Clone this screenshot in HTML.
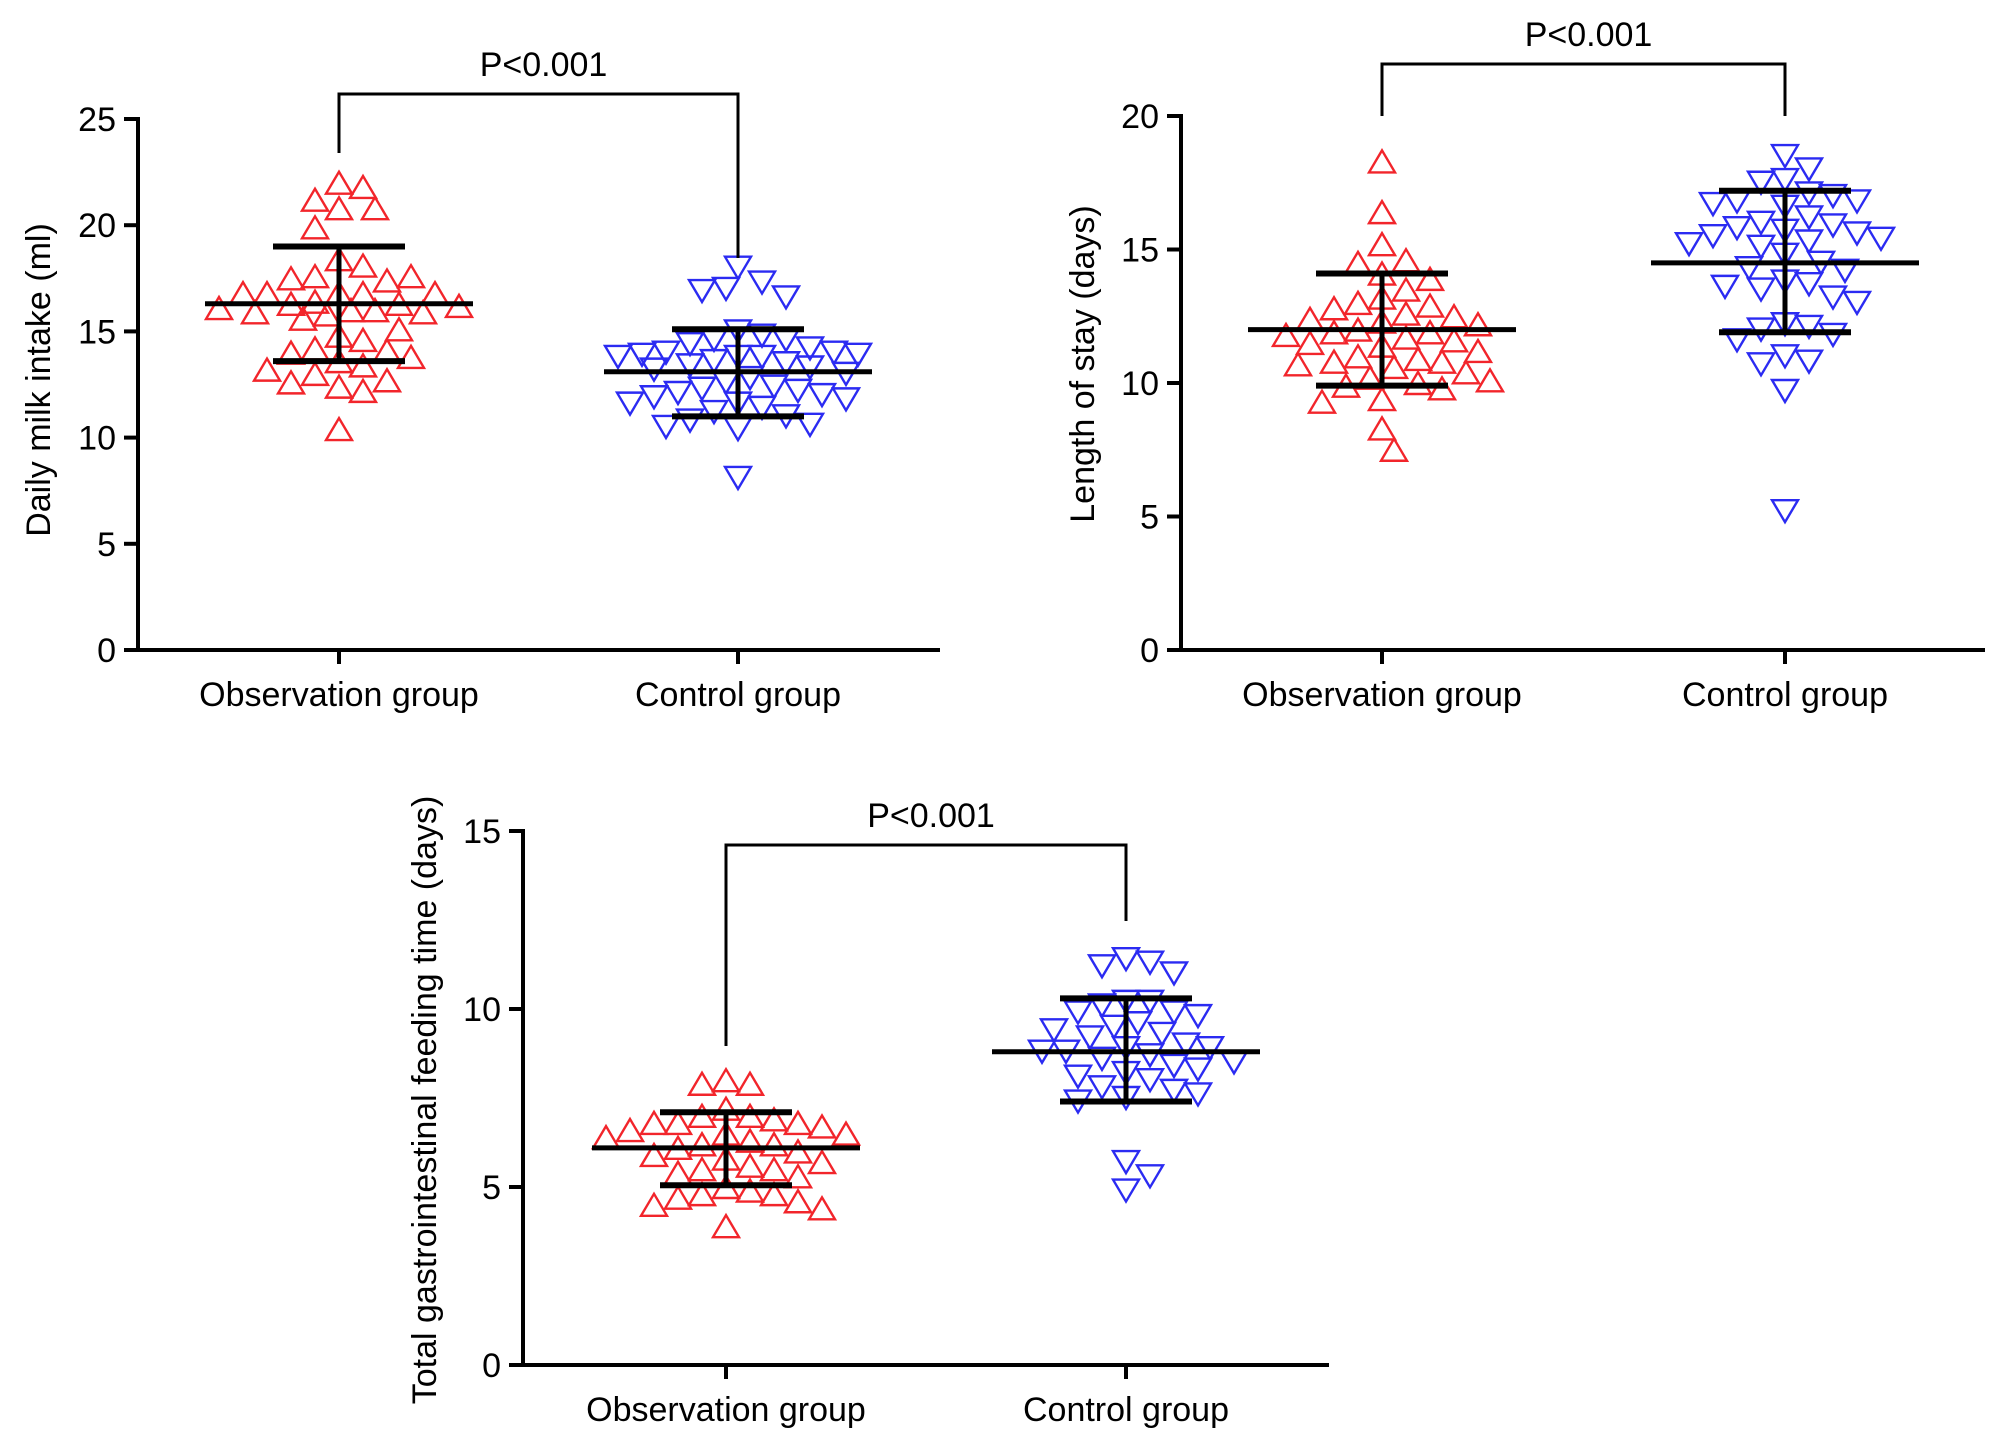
<!DOCTYPE html>
<html><head><meta charset="utf-8"><style>
html,body{margin:0;padding:0;background:#fff;}
svg{display:block;font-family:"Liberation Sans",Arial,sans-serif;}
</style></head><body>
<svg id="fig" width="2008" height="1447" viewBox="0 0 2008 1447"></svg>
<script>
const categories = ["Observation group","Control group"];
const milkObs = [22.0,21.8,21.2,20.8,20.8,19.9,18.4,18.1,17.6,17.4,17.5,17.6,16.8,16.8,16.8,16.8,16.8,16.4,16.3,16.3,16.2,16.1,16.0,16.0,15.9,15.9,15.8,15.6,15.1,14.8,14.6,14.2,14.1,14.0,13.8,13.6,13.4,13.2,13.0,12.7,12.6,12.4,12.2,10.4];
const milkCtl = [18.0,17.3,17.0,16.9,16.6,15.0,14.8,14.6,14.6,14.4,14.2,14.0,14.0,13.9,13.9,13.8,13.8,13.8,13.6,13.5,13.4,13.3,13.2,13.0,12.8,12.6,12.4,12.3,12.2,12.1,12.0,11.9,11.8,11.6,11.6,11.4,11.2,11.0,10.8,10.6,10.5,10.4,8.1];
const milkStats = [[16.3,13.6,19.0],[13.1,11.0,15.1]];
const stayObs = [18.3,16.4,15.2,14.6,14.5,14.1,13.9,13.5,13.2,13.0,12.9,12.8,12.6,12.5,12.4,12.3,12.2,12.0,11.9,11.9,11.8,11.7,11.6,11.5,11.4,11.2,11.0,10.9,10.8,10.8,10.7,10.6,10.4,10.2,10.1,10.0,9.9,9.8,9.4,9.3,8.3,7.5];
const stayCtl = [18.5,18.0,17.6,17.5,17.1,17.0,16.8,16.8,16.6,16.7,16.2,16.0,15.9,15.8,15.7,15.6,15.5,15.4,15.3,15.2,15.1,14.8,14.5,14.3,14.2,13.8,13.7,13.6,13.5,13.2,13.0,12.2,12.1,12.0,11.8,11.6,11.0,10.8,10.7,9.7,5.2];
const stayStats = [[12.0,9.9,14.1],[14.5,11.9,17.2]];
const feedObs = [8.0,7.9,7.9,7.2,7.0,7.0,6.9,6.8,6.8,6.8,6.7,6.6,6.5,6.5,6.4,6.3,6.2,6.2,6.1,6.0,5.9,5.8,5.7,5.6,5.5,5.5,5.4,5.3,5.0,4.9,4.8,4.8,4.7,4.6,4.5,4.4,3.9];
const feedCtl = [11.4,11.3,11.2,11.0,10.2,10.2,10.1,9.9,9.9,9.8,9.6,9.5,9.4,9.3,9.2,9.0,8.9,8.9,8.8,8.8,8.7,8.6,8.5,8.4,8.3,8.2,8.1,8.0,7.8,7.7,7.6,7.5,7.4,5.7,5.3,4.9];
const feedStats = [[6.1,5.05,7.1],[8.8,7.4,10.3]];
const milkTicks = [0,5,10,15,20,25];
const stayTicks = [0,5,10,15,20];
const feedTicks = [0,5,10,15];

const NS="http://www.w3.org/2000/svg";
const svg=document.getElementById('fig');
function mk(tag,attrs,parent){const e=document.createElementNS(NS,tag);for(const k in attrs)e.setAttribute(k,attrs[k]);(parent||svg).appendChild(e);return e;}

function swarm(vals,yf,cx){
  const placed=[];
  const d=24, step=12, maxOff=130;
  const cands=[0];
  for(let k=1;k*step<=maxOff;k++){cands.push(k*step);cands.push(-k*step);}
  vals.forEach(v=>{
    const y=yf(v);
    let best=null,bestD=-1;
    for(const off of cands){
      const x=cx+off;
      let md=Infinity;
      placed.forEach(p=>{md=Math.min(md,Math.hypot(p[0]-x,p[1]-y));});
      if(md>=d){best=x;bestD=md;break;}
      if(md>bestD){bestD=md;best=x;}
    }
    placed.push([best,y]);
  });
  return placed;
}

function chart(cfg){
  const g=mk('g',{});
  
  
  const ymax=cfg.ticks[cfg.ticks.length-1];
  const yf=v=>cfg.y0+(cfg.yTop-cfg.y0)*v/ymax;
  const xs=[cfg.cx1,cfg.cx2];
  const ya=mk('line',{x1:cfg.ax,y1:yf(ymax)-2,x2:cfg.ax,y2:cfg.y0+2,stroke:'#000','stroke-width':4},g);
  
  const xa=mk('line',{x1:cfg.ax-14,y1:cfg.y0,x2:cfg.xEnd,y2:cfg.y0,stroke:'#000','stroke-width':4},g);
  
  cfg.ticks.forEach(t=>{
    const y=yf(t);
    mk('line',{x1:cfg.ax-14,y1:y,x2:cfg.ax,y2:y,stroke:'#000','stroke-width':4},g);
    const tx=mk('text',{x:cfg.ax-22,y:y+12,'text-anchor':'end','font-size':34,fill:'#000'},g);
    tx.textContent=t;
    
  });
  categories.forEach((c,i)=>{
    mk('line',{x1:xs[i],y1:cfg.y0,x2:xs[i],y2:cfg.y0+14,stroke:'#000','stroke-width':4},g);
    const tx=mk('text',{x:xs[i],y:cfg.y0+56,'text-anchor':'middle','font-size':34,fill:'#000'},g);
    tx.textContent=c;
    
  });
  const tt=mk('text',{x:0,y:0,'text-anchor':'middle','font-size':34,fill:'#000',transform:`translate(${cfg.titleX},${cfg.titleY}) rotate(-90)`},g);
  tt.textContent=cfg.title;
  
  [cfg.obs,cfg.ctl].forEach((vals,i)=>{
    const pts=swarm(vals,yf,xs[i]);
    pts.forEach(p=>{
      const [x,y]=p;const w=13,h=11;
      const ptsStr=i===0?`${x},${y-h} ${x-w},${y+h} ${x+w},${y+h}`:`${x},${y+h} ${x-w},${y-h} ${x+w},${y-h}`;
      const pg=mk('polygon',{points:ptsStr,fill:'none',stroke:i===0?'#f2252b':'#2b2bf2','stroke-width':2.4},g);
      
      
    });
  });
  cfg.stats.forEach((s,i)=>{
    const x=xs[i];
    const m=mk('line',{x1:x-134,y1:yf(s[0]),x2:x+134,y2:yf(s[0]),stroke:'#000','stroke-width':5},g);
    
    const v=mk('line',{x1:x,y1:yf(s[1]),x2:x,y2:yf(s[2]),stroke:'#000','stroke-width':5},g);
    
    [s[1],s[2]].forEach(val=>{
      const c=mk('line',{x1:x-66,y1:yf(val),x2:x+66,y2:yf(val),stroke:'#000','stroke-width':6},g);
      
    });
  });
  const br=mk('polyline',{points:`${xs[0]},${cfg.legL} ${xs[0]},${cfg.brY} ${xs[1]},${cfg.brY} ${xs[1]},${cfg.legR}`,fill:'none',stroke:'#000','stroke-width':3},g);
  
  const pl=mk('text',{x:(xs[0]+xs[1])/2+5,y:cfg.brY-18,'text-anchor':'middle','font-size':34,fill:'#000'},g);
  pl.textContent='P<0.001';
  
}

chart({name:'milk-chart',ticks:milkTicks,obs:milkObs,ctl:milkCtl,stats:milkStats,ax:138,y0:650,yTop:119,xEnd:940,cx1:339,cx2:738,title:'Daily milk intake (ml)',titleX:50,titleY:380,brY:94,legL:153,legR:258});
chart({name:'stay-chart',ticks:stayTicks,obs:stayObs,ctl:stayCtl,stats:stayStats,ax:1181,y0:650,yTop:116,xEnd:1985,cx1:1382,cx2:1785,title:'Length of stay (days)',titleX:1094,titleY:364,brY:64,legL:116,legR:116});
chart({name:'feeding-chart',ticks:feedTicks,obs:feedObs,ctl:feedCtl,stats:feedStats,ax:523,y0:1365,yTop:831,xEnd:1329,cx1:726,cx2:1126,title:'Total gastrointestinal feeding time (days)',titleX:436,titleY:1100,brY:845,legL:1046,legR:921});
</script>
</body></html>
